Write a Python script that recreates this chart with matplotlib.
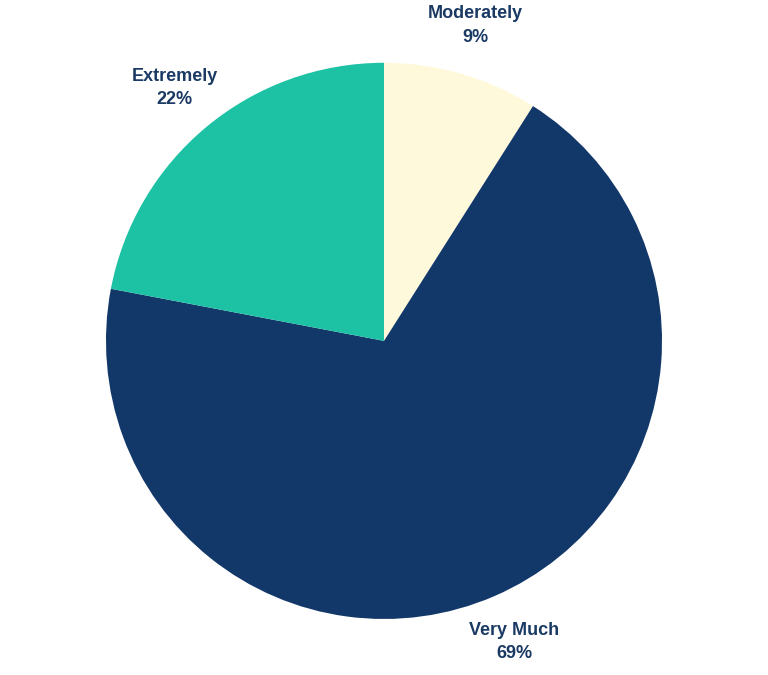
import matplotlib
matplotlib.use("Agg")
import matplotlib.pyplot as plt

labels = ["Moderately", "Very Much", "Extremely"]
values = [9, 69, 22]
colors = ["#FFF9DB", "#12386A", "#1DC2A5"]

fig = plt.figure(figsize=(7.68, 6.75), dpi=100)
ax = fig.add_axes([0.138, 0.083, 0.724, 0.824])
wedges, texts = ax.pie(values, colors=colors, startangle=90, counterclock=False,
                       labels=[f"{l}\n{v}%" for l, v in zip(labels, values)],
                       labeldistance=1.18,
                       textprops=dict(fontsize=13, fontweight="bold", color="#1A3A63",
                                      family=["Liberation Sans", "DejaVu Sans"],
                                      linespacing=1.5))
for t in texts:
    t.set_ha("center")
    t.set_va("center")
ax.set_aspect("auto")
ax.set_xlim(-1, 1)
ax.set_ylim(-1, 1)
fig.savefig("out.png", dpi=100)
